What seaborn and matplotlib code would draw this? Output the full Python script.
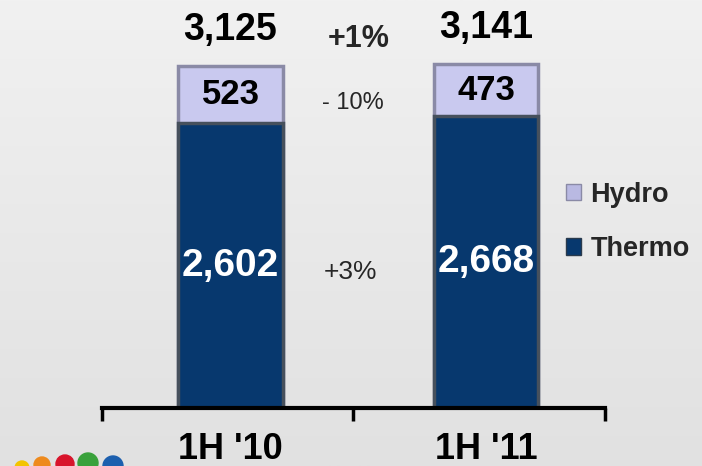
import numpy as np
import pandas as pd
import seaborn as sns
import matplotlib.pyplot as plt
from matplotlib.patches import Patch, Circle

sns.set_theme(style='white')
plt.rcParams['font.family'] = ['Liberation Sans', 'DejaVu Sans']

# data
periods = ["1H '10", "1H '11"]
thermo = [2602, 2668]
hydro = [523, 473]
totals = [t + h for t, h in zip(thermo, hydro)]
change_labels = ['+1%', '- 10%', '+3%']

hydro_color = '#c9c9ef'
thermo_color = '#07386e'

df = pd.DataFrame({'period': periods, 'thermo': thermo, 'hydro': hydro, 'total': totals})

fig = plt.figure(figsize=(7.02, 4.66), dpi=100)

# light grey background with a soft vertical gradient
bg = fig.add_axes([0, 0, 1, 1], zorder=0)
grad = np.linspace(0, 1, 256).reshape(-1, 1)
bg.imshow(grad, cmap=plt.matplotlib.colors.LinearSegmentedColormap.from_list(
    'bg', ['#f1f1f1', '#e1e1e1']), aspect='auto', extent=(0, 702, 466, 0))
bg.set_xlim(0, 702)
bg.set_ylim(466, 0)
bg.set_axis_off()

# little logo dots in the bottom-left corner
for (cx, cy, r), c in zip([(22, 468, 7), (42, 465, 8), (65, 464, 9), (88, 463, 10), (113, 466, 10)],
                          ['#f3c400', '#ee8a1d', '#d8142b', '#39a13b', '#1c5fae']):
    bg.add_patch(Circle((cx, cy), r, color=c))

ax = fig.add_axes([102 / 702, 58 / 466, 503 / 702, 408 / 466], zorder=1)
ax.patch.set_alpha(0)

sns.barplot(data=df, x='period', y='total', color=hydro_color, saturation=1, width=0.41,
            edgecolor='#8a8aa6', linewidth=2.5, ax=ax)
sns.barplot(data=df, x='period', y='thermo', color=thermo_color, saturation=1, width=0.41,
            edgecolor='#46505c', linewidth=2.5, ax=ax)

ax.set_xlim(-0.503, 1.466)
ax.set_ylim(0, 3729)
ax.set_xlabel('')
ax.set_ylabel('')
ax.set_yticks([])
for s in ['left', 'top', 'right']:
    ax.spines[s].set_visible(False)
ax.spines['bottom'].set_linewidth(3)
ax.spines['bottom'].set_color('black')

ax.tick_params(axis='x', which='major', length=0, pad=17, labelsize=26, labelcolor='black')
for lab in ax.get_xticklabels():
    lab.set_fontweight('bold')
ax.set_xticks([-0.503, 0.479, 1.466], minor=True)
ax.tick_params(axis='x', which='minor', length=9, width=2.5, direction='out', color='black', bottom=True)

for i in range(len(periods)):
    ax.annotate(f'{totals[i]:,}', (i, totals[i]), xytext=(0, 19), textcoords='offset points',
                ha='center', va='baseline', fontsize=27, fontweight='bold', color='black')
    ax.text(i, thermo[i] + hydro[i] / 2, f'{hydro[i]:,}', ha='center', va='center',
            fontsize=25, fontweight='bold', color='black')
    ax.text(i, thermo[i] / 2, f'{thermo[i]:,}', ha='center', va='center',
            fontsize=28, fontweight='bold', color='white')

ax.text(0.5, 3300, change_labels[0], ha='center', va='baseline', fontsize=22, fontweight='bold')
ax.text(0.48, 2790, change_labels[1], ha='center', va='center', fontsize=17)
ax.text(0.47, 1180, change_labels[2], ha='center', va='baseline', fontsize=19)

handles = [Patch(facecolor='#b9b9e2', edgecolor='#8a8aa6'),
           Patch(facecolor=thermo_color, edgecolor='#2a3a4c')]
ax.legend(handles, ['Hydro', 'Thermo'], loc='center left', bbox_to_anchor=(566 / 702, (466 - 222) / 466),
          bbox_transform=fig.transFigure, frameon=False, handlelength=0.55, handleheight=0.55,
          handletextpad=0.35, labelspacing=1.05, borderpad=0, borderaxespad=0,
          prop={'weight': 'bold', 'size': 19.5})

plt.savefig('out.png', dpi=100)
